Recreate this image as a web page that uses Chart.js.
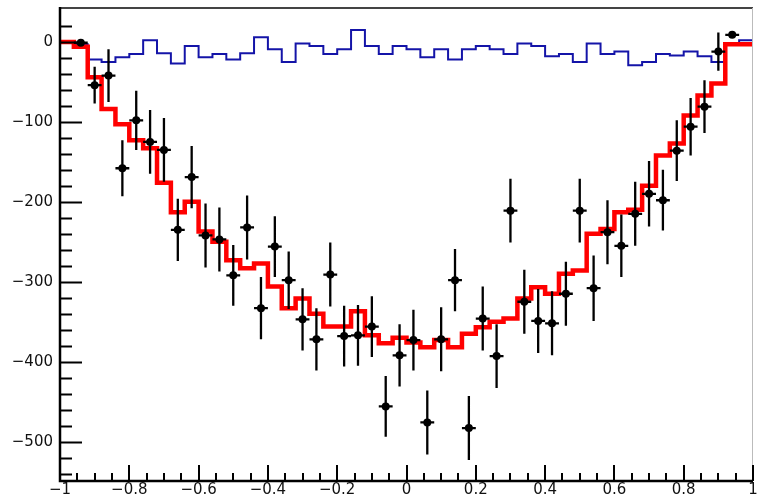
<!DOCTYPE html>
<html><head><meta charset="utf-8">
<script src="https://cdn.jsdelivr.net/npm/chart.js@4"></script>
<style>html,body{margin:0;padding:0;background:#fff;}#wrap{width:757px;height:501px;position:relative;}</style>
</head><body><div id="wrap"><canvas id="c" width="757" height="501"></canvas></div>
<script>
// ---- axis setup ----
const xMin = -1, xMax = 1, nBins = 50;
const yMin = -548, yMax = 42.5;
const xTicks = [-1, -0.8, -0.6, -0.4, -0.2, 0, 0.2, 0.4, 0.6, 0.8, 1];
const yTicks = [0, -100, -200, -300, -400, -500];

// ---- red fitted histogram (bin contents, 50 bins) ----
const redFit = [0, -6, -44, -84, -103, -123, -133, -176, -213, -200,
  -237, -250, -273, -283, -277, -306, -333, -321, -340, -356,
  -356, -337, -367, -377, -370, -376, -382, -373, -382, -365,
  -357, -350, -346, -321, -307, -315, -290, -286, -240, -234,
  -213, -210, -180, -142, -127, -92, -67, -52, -3, -3];

// ---- blue histogram (bin contents, 50 bins) ----
const blueHist = [0, -3, -22, -25, -19, -15, 2, -14, -27, -5,
  -19, -15, -22, -14, 6, -9, -25, -2, -5, -15,
  -9, 15, -5, -15, -5, -9, -19, -9, -22, -9,
  -5, -9, -15, -2, -5, -18, -15, -25, -2, -15,
  -12, -29, -25, -15, -17, -12, -18, -25, -2, 2];

// ---- data points (bin contents) and errors ----
const dataVals = [null, -1, -54, -42, -158, -98, -125, -135, -235, -169,
  -242, -247, -292, -232, -333, -256, -298, -347, -372, -291,
  -368, -367, -356, -456, -392, -373, -476, -372, -298, -483,
  -346, -393, -211, -325, -349, -352, -315, -211, -308, -238,
  -255, -215, -190, -198, -136, -106, -81, -12, 9, null];
const dataErrs = [0, 2, 23, 33, 35, 37, 40, 40, 39, 39,
  40, 40, 38, 40, 39, 38, 36, 39, 39, 40,
  38, 38, 38, 38, 39, 38, 40, 40, 39, 40,
  40, 40, 40, 40, 40, 40, 40, 40, 41, 40,
  39, 40, 41, 38, 38, 36, 33, 24, 3, 0];

const binW = (xMax - xMin) / nBins;
const edge = k => xMin + k * binW;

function stepPoints(vals) {
  const pts = vals.map((v, k) => ({ x: edge(k), y: v }));
  pts.push({ x: xMax, y: vals[vals.length - 1] });
  return pts;
}
const markerPts = [];
const errPts = [];
dataVals.forEach((v, i) => {
  if (v === null) return;
  const c = edge(i) + binW / 2;
  markerPts.push({ x: c, y: v });
  errPts.push({ x: c, y: v - dataErrs[i] }, { x: c, y: v + dataErrs[i] }, { x: c, y: null });
  errPts.push({ x: edge(i), y: v }, { x: edge(i + 1), y: v }, { x: c, y: null });
});

const fmt = v => {
  const r = Math.round(v * 10) / 10;
  if (r === 0) return '0';
  return (r < 0 ? '\u2212' : '') + String(Math.abs(r));
};

const frameTicks = {
  id: 'frameTicks',
  afterDatasetsDraw(chart) {
    const ctx = chart.ctx, a = chart.chartArea;
    const xs = chart.scales.x, ys = chart.scales.y;
    ctx.save();
    ctx.strokeStyle = '#444'; ctx.lineWidth = 2;
    ctx.beginPath(); ctx.moveTo(a.left, a.top); ctx.lineTo(a.right, a.top); ctx.stroke();
    ctx.strokeStyle = '#bbb'; ctx.lineWidth = 1;
    ctx.beginPath(); ctx.moveTo(a.right - 0.5, a.top); ctx.lineTo(a.right - 0.5, a.bottom); ctx.stroke();
    ctx.strokeStyle = '#000'; ctx.lineWidth = 2.5;
    ctx.beginPath(); ctx.moveTo(a.left, a.top - 1); ctx.lineTo(a.left, a.bottom + 1); ctx.lineTo(a.right, a.bottom + 1); ctx.stroke();
    ctx.lineWidth = 2;
    for (let v = 20; v >= -540; v -= 20) {
      const py = Math.round(ys.getPixelForValue(v)) + 0.5;
      const len = (v % 100 === 0) ? 22 : 12;
      ctx.beginPath(); ctx.moveTo(a.left, py); ctx.lineTo(a.left + len, py); ctx.stroke();
    }
    for (let k = 0; k <= 40; k++) {
      const v = xMin + k * 0.05;
      const px = Math.round(xs.getPixelForValue(v));
      const len = (k % 4 === 0) ? 16 : 8;
      ctx.beginPath(); ctx.moveTo(px, a.bottom + 1); ctx.lineTo(px, a.bottom + 1 - len); ctx.stroke();
    }
    ctx.restore();
  }
};

new Chart(document.getElementById('c'), {
  type: 'line',
  data: {
    datasets: [
      { label: 'data', type: 'scatter', data: markerPts, pointRadius: 4, pointHoverRadius: 4,
        backgroundColor: '#000', borderColor: '#000', borderWidth: 0, showLine: false },
      { label: 'errors', data: errPts, borderColor: '#000', borderWidth: 2.3, pointRadius: 0,
        spanGaps: false, tension: 0, fill: false },
      { label: 'fit', data: stepPoints(redFit), stepped: true, borderColor: '#ff0000', borderWidth: 4.5,
        pointRadius: 0, fill: false, borderJoinStyle: 'miter', borderCapStyle: 'butt' },
      { label: 'bkg', data: stepPoints(blueHist), stepped: true, borderColor: '#1414a8', borderWidth: 2,
        pointRadius: 0, fill: false, borderJoinStyle: 'miter' }
    ]
  },
  options: {
    responsive: false,
    animation: false,
    devicePixelRatio: 1,
    layout: { padding: { left: 0, right: 1, top: 8, bottom: 0 } },
    plugins: { legend: { display: false }, tooltip: { enabled: false } },
    scales: {
      x: {
        type: 'linear', min: xMin, max: xMax,
        grid: { display: false, drawTicks: false },
        border: { display: false },
        afterBuildTicks: s => { s.ticks = xTicks.map(v => ({ value: v })); },
        afterFit: s => { s.height = 21; s.paddingLeft = 0; s.paddingRight = 0; },
        ticks: { autoSkip: false, maxRotation: 0, padding: 1, color: '#111',
          font: { family: 'DejaVu Sans', size: 15 }, callback: v => fmt(v) }
      },
      y: {
        type: 'linear', min: yMin, max: yMax,
        grid: { display: false, drawTicks: false },
        border: { display: false },
        afterBuildTicks: s => { s.ticks = yTicks.map(v => ({ value: v })); },
        afterFit: s => { s.width = 60; s.paddingTop = 0; s.paddingBottom = 0; },
        ticks: { autoSkip: false, padding: 7, color: '#111',
          font: { family: 'DejaVu Sans', size: 15 }, callback: v => fmt(v) }
      }
    }
  },
  plugins: [frameTicks]
});
</script>
</body></html>
